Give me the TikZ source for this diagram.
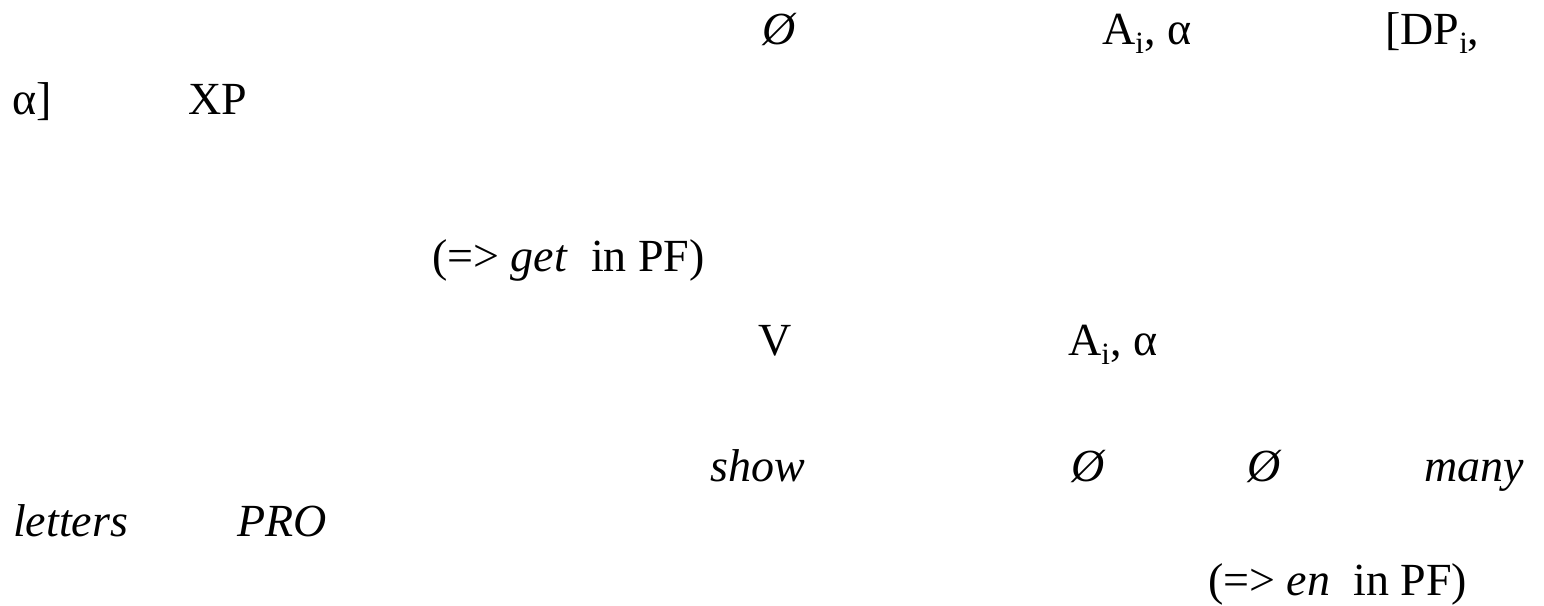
\documentclass[tikz,border=0pt]{standalone}
\usepackage{fontspec}
\setmainfont{Liberation Serif}
\usetikzlibrary{positioning}

% lowered index letter, as in A_i
\newcommand{\idx}[1]{\raisebox{-9pt}{\fontsize{31}{31}\selectfont #1}}

\begin{document}
\begin{tikzpicture}[x=1pt, y=1pt,
  word/.style={anchor=base west, inner sep=0pt, font=\fontsize{46}{54}\selectfont},
  it/.style={word, font=\fontsize{46}{54}\selectfont\itshape}
]
  \useasboundingbox (0,0) rectangle (1544,605);

  % first line
  \node[it]   (null1) at (762,560)  {Ø};
  \node[word] (agr1)  at (1102,560) {A\idx{i}, α};
  \node[word] (dp)    at (1385,560) {[DP\idx{i},};
  \node[word] (alpha) at (12,490)   {α]};
  \node[word] (xp)    at (188,490)  {XP};

  \node[word] (get)   at (432,333)  {(=> \textit{get}~ in PF)};

  \node[word] (verb)  at (758,249)  {V};
  \node[word] (agr2)  at (1068,249) {A\idx{i}, α};

  % second line
  \node[it] (show)    at (710,123)  {show};
  \node[it] (null2)   at (1071,123) {Ø};
  \node[it] (null3)   at (1247,123) {Ø};
  \node[it] (many)    at (1424,123) {many};
  \node[it] (letters) at (13,68)    {letters};
  \node[it] (pro)     at (237,68)   {PRO};

  \node[word] (en)    at (1208,10)  {(=> \textit{en}~ in PF)};
\end{tikzpicture}
\end{document}
